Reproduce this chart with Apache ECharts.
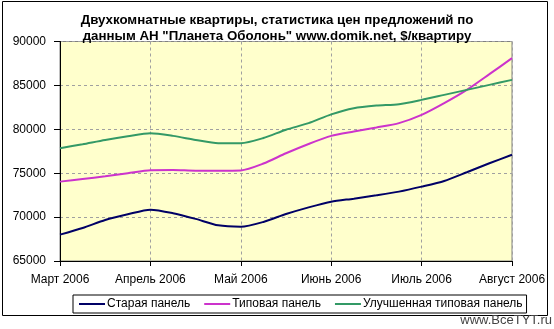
<!DOCTYPE html>
<html>
<head>
<meta charset="utf-8">
<script src="https://cdn.jsdelivr.net/npm/echarts@6/dist/echarts.min.js"></script>
<style>
html,body{margin:0;padding:0;background:#fff;}
#c{width:554px;height:329px;}
</style>
</head>
<body>
<div id="c"></div>
<script>
// Month labels (ticks) and weekly sample points between them
var monthLabels = ['Март 2006', 'Апрель 2006', 'Май 2006', 'Июнь 2006', 'Июль 2006', 'Август 2006'];
var stepsPerMonth = 4;
var seriesNames = ['Старая панель', 'Типовая панель', 'Улучшенная типовая панель'];
var oldPanel = [68000, 68750, 69670, 70320, 70850, 70450, 69800, 69060, 68900, 69450,
                70350, 71110, 71760, 72100, 72480, 72900, 73470, 74120, 75110, 76130, 77100];
var typicalPanel = [74040, 74340, 74650, 75000, 75350, 75370, 75290, 75290, 75320, 76100,
                    77270, 78330, 79250, 79740, 80200, 80700, 81640, 82980, 84490, 86280, 88100];
var improvedPanel = [77840, 78300, 78790, 79210, 79550, 79250, 78790, 78410, 78410, 79000,
                     79950, 80700, 81700, 82400, 82700, 82860, 83350, 83920, 84490, 85060, 85630];
var yTicks = [65000, 70000, 75000, 80000, 85000, 90000];

var categories = [];
for (var m = 0; m < monthLabels.length; m++) {
  categories.push(monthLabels[m]);
  if (m < monthLabels.length - 1) {
    for (var w = 1; w < stepsPerMonth; w++) categories.push(monthLabels[m] + ' #' + (w + 1));
  }
}

var font = "'Liberation Sans', Arial, sans-serif";
var colors = ['#000066', '#cc33cc', '#339966'];
var chart = echarts.init(document.getElementById('c'), null, {renderer: 'canvas'});
chart.setOption({
  animation: false,
  backgroundColor: '#ffffff',
  color: colors,
  title: {
    text: 'Двухкомнатные квартиры, статистика цен предложений по\nданным АН "Планета Оболонь" www.domik.net, $/квартиру',
    left: 'center',
    top: 7,
    textStyle: {fontFamily: font, fontSize: 13.3, fontWeight: 'bold', color: '#000', lineHeight: 16}
  },
  grid: {
    left: 60, right: 42, top: 41.5, bottom: 68,
    show: true, backgroundColor: '#ffffcc', borderColor: '#808080', borderWidth: 1
  },
  legend: {
    data: seriesNames,
    left: 73, top: 295,
    width: 460,
    padding: [3, 4, 3, 6],
    itemGap: 14,
    itemWidth: 26, itemHeight: 2,
    icon: 'rect',
    borderColor: '#000', borderWidth: 1,
    textStyle: {fontFamily: font, fontSize: 12, color: '#000', padding: [0, 0, 0, -3]}
  },
  xAxis: {
    type: 'category',
    data: categories,
    boundaryGap: false,
    axisLine: {lineStyle: {color: '#000', width: 1}},
    axisTick: {interval: stepsPerMonth - 1, length: 5, lineStyle: {color: '#000'}},
    axisLabel: {interval: stepsPerMonth - 1, margin: 13, fontFamily: font, fontSize: 12, color: '#000',
      formatter: function (v) { return v.indexOf('#') >= 0 ? '' : v; }},
    splitLine: {show: true, interval: stepsPerMonth - 1, lineStyle: {color: '#a0a0a0', type: [3, 3], width: 1}}
  },
  yAxis: {
    type: 'value',
    min: yTicks[0], max: yTicks[yTicks.length - 1], interval: 5000,
    axisLine: {show: true, lineStyle: {color: '#000', width: 1}},
    axisTick: {show: true, length: 6, lineStyle: {color: '#000'}},
    axisLabel: {margin: 14, fontFamily: font, fontSize: 12, color: '#000',
      formatter: function (v) { return String(v); }},
    splitLine: {show: true, lineStyle: {color: '#a0a0a0', type: [3, 3], width: 1}}
  },
  graphic: [
    {type: 'rect', shape: {x: 2.5, y: 1.5, width: 545, height: 314}, style: {fill: 'none', stroke: '#000', lineWidth: 1}, silent: true, z: -1},
    {type: 'text', right: 2, top: 314, style: {text: 'www.BceTYT.ru', fontFamily: font, fontSize: 13, fill: '#444'}, z: 10}
  ],
  series: [
    {name: seriesNames[0], type: 'line', data: oldPanel, showSymbol: false, smooth: 0.25, lineStyle: {width: 2}},
    {name: seriesNames[1], type: 'line', data: typicalPanel, showSymbol: false, smooth: 0.25, lineStyle: {width: 2}},
    {name: seriesNames[2], type: 'line', data: improvedPanel, showSymbol: false, smooth: 0.25, lineStyle: {width: 2}}
  ]
});
</script>
</body>
</html>
